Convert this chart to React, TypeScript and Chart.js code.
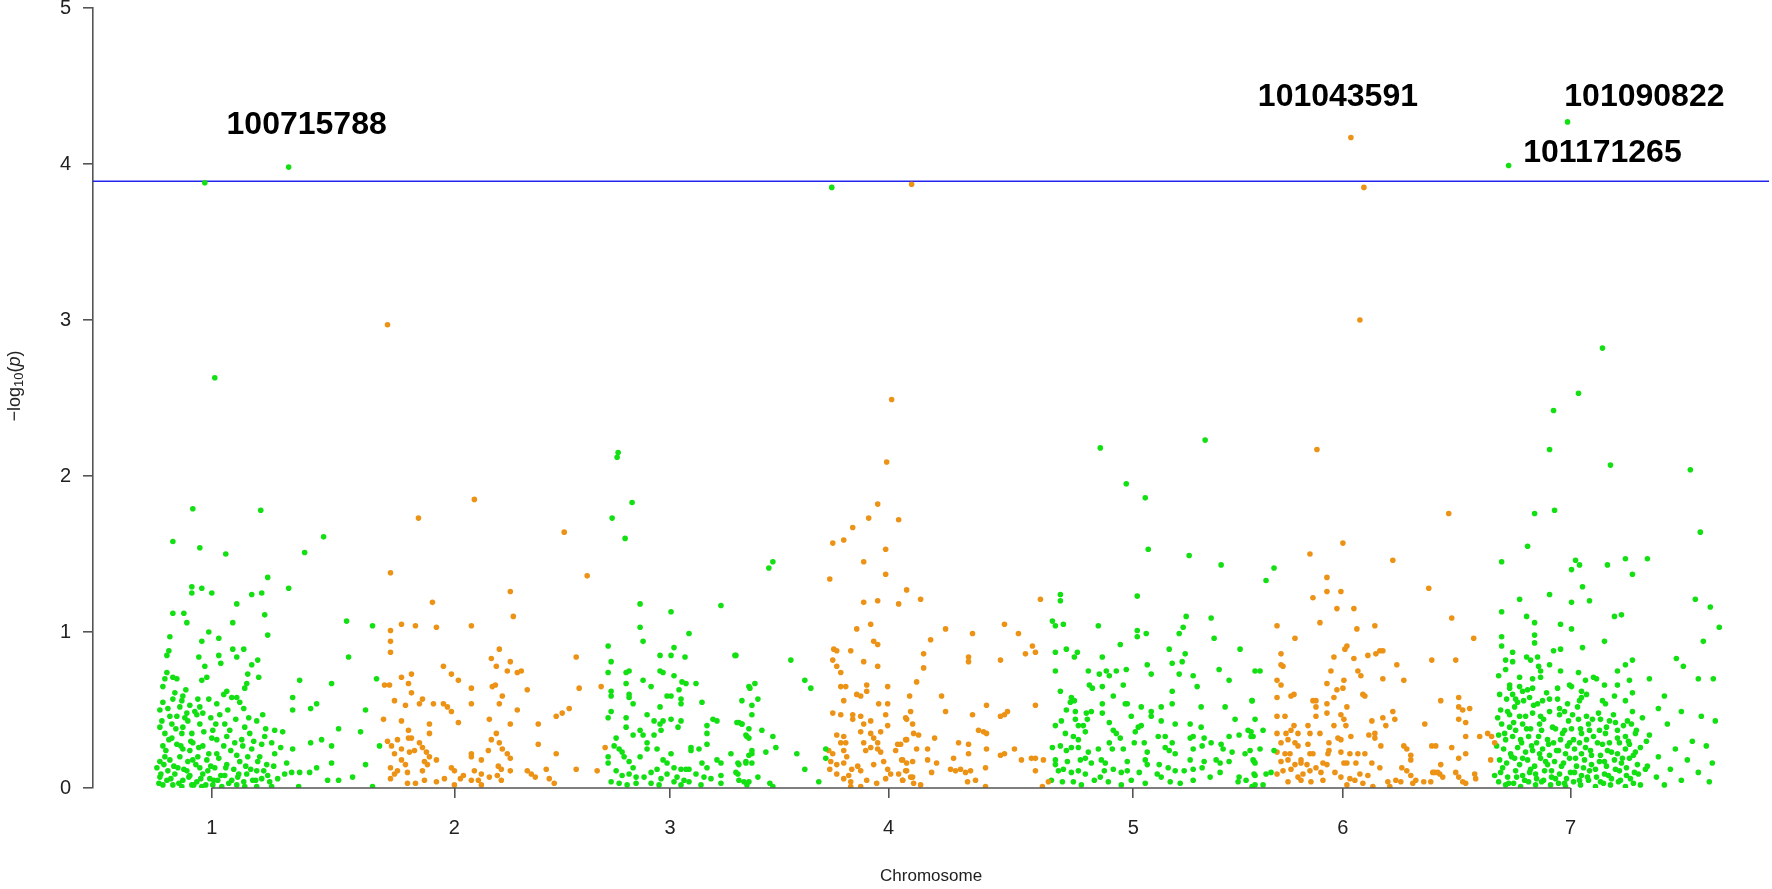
import React, { useEffect, useRef } from 'react';
import { Chart, registerables } from 'chart.js';

Chart.register(...registerables);

// ---- data ----
const chromosomes = ['1', '2', '3', '4', '5', '6', '7'];
// cumulative genome position (arbitrary units) of each chromosome's axis tick
const chromosomeTicks = [119, 362, 578, 797, 1042, 1252, 1480];
const positionRange = [0, 1679];
const yTicks = [0, 1, 2, 3, 4, 5];
const threshold = 3.89;

const labelTexts = ['100715788', '101043591', '101090822', '101171265'];
const labelPositions = [214, 1247, 1554, 1512];
const labelValues = [4.25, 4.43, 4.43, 4.07];

// [cumulative position, -log10(p)]
const chr1: number[][] = [
  [112, 3.88], [196, 3.98], [122, 2.63], [80, 1.58], [100, 1.79], [107, 1.54], [133, 1.5], [168, 1.78], [212, 1.51], [231, 1.61],
  [175, 1.35], [99, 1.29], [109, 1.28], [99, 1.25], [119, 1.25], [159, 1.24], [169, 1.25], [196, 1.28], [144, 1.18], [80, 1.12],
  [91, 1.12], [94, 1.06], [140, 1.06], [172, 1.11], [175, 0.98], [116, 1.0], [109, 0.94], [77, 0.97], [126, 0.96], [76, 0.88],
  [74, 0.85], [106, 0.84], [112, 0.78], [126, 0.85], [140, 0.89], [151, 0.89], [144, 0.84], [128, 0.8], [165, 0.82], [159, 0.79],
  [155, 0.73], [166, 0.71], [74, 0.74], [72, 0.7], [70, 0.65], [80, 0.71], [84, 0.7], [109, 0.69], [114, 0.71], [254, 1.07],
  [280, 1.04], [256, 0.84], [207, 0.69], [239, 0.67], [284, 0.7], [154, 0.67], [152, 0.64], [134, 0.62], [139, 0.58], [144, 0.58],
  [90, 0.59], [80, 0.57], [89, 0.56], [97, 0.53], [105, 0.57], [116, 0.57], [124, 0.54], [67, 0.5], [77, 0.46], [87, 0.52],
  [94, 0.48], [102, 0.49], [110, 0.48], [127, 0.47], [135, 0.5], [151, 0.51], [170, 0.47], [200, 0.58], [200, 0.5], [218, 0.51],
  [224, 0.54], [273, 0.5], [67, 0.39], [79, 0.41], [90, 0.39], [99, 0.35], [107, 0.41], [120, 0.37], [132, 0.41], [137, 0.37],
  [152, 0.39], [157, 0.35], [164, 0.43], [172, 0.33], [182, 0.37], [190, 0.36], [70, 0.27], [84, 0.28], [90, 0.25], [100, 0.29],
  [110, 0.27], [119, 0.32], [124, 0.31], [134, 0.33], [142, 0.29], [150, 0.27], [159, 0.25], [169, 0.28], [179, 0.29], [182, 0.22],
  [200, 0.25], [218, 0.29], [229, 0.31], [239, 0.27], [246, 0.38], [268, 0.36], [287, 0.27], [67, 0.17], [77, 0.18], [87, 0.2],
  [95, 0.17], [105, 0.2], [114, 0.18], [122, 0.13], [134, 0.15], [147, 0.17], [155, 0.2], [165, 0.17], [174, 0.15], [194, 0.16],
  [199, 0.1], [207, 0.1], [217, 0.1], [224, 0.13], [239, 0.16], [273, 0.15], [67, 0.07], [74, 0.05], [82, 0.09], [90, 0.05],
  [97, 0.08], [104, 0.04], [110, 0.09], [117, 0.06], [125, 0.05], [132, 0.08], [139, 0.05], [145, 0.07], [154, 0.09], [160, 0.05],
  [169, 0.06], [175, 0.08], [192, 0.09], [235, 0.05], [246, 0.05], [260, 0.07], [70, 0.02], [80, 0.02], [89, 0.01], [99, 0.02],
  [109, 0.01], [120, 0.02], [129, 0.01], [144, 0.02], [152, 0.01], [164, 0.01], [179, 0.01], [206, 0.01], [280, 0.01], [64, 0.13],
  [72, 0.2], [75, 0.11], [85, 0.13], [94, 0.11], [100, 0.18], [107, 0.13], [115, 0.11], [79, 0.32], [89, 0.35], [95, 0.43],
  [75, 0.51], [69, 0.43], [107, 0.52], [84, 0.46], [97, 0.24], [72, 0.35], [124, 0.22], [144, 0.21], [164, 0.11],
  [66, 0.03], [68, 0.09], [71, 0.15], [73, 0.24], [76, 0.31], [78, 0.06], [81, 0.14], [83, 0.38], [86, 0.03], [88, 0.27],
  [91, 0.12], [92, 0.45], [96, 0.07], [98, 0.3], [101, 0.02], [103, 0.15], [106, 0.26], [108, 0.06], [111, 0.36], [113, 0.02],
  [116, 0.22], [118, 0.14], [121, 0.05], [123, 0.41], [126, 0.19], [128, 0.08], [131, 0.27], [133, 0.13], [136, 0.03], [138, 0.24],
  [141, 0.12], [143, 0.44], [146, 0.09], [149, 0.31], [151, 0.04], [153, 0.14], [156, 0.45], [158, 0.12], [161, 0.3], [163, 0.05],
  [167, 0.2], [171, 0.11], [173, 0.38], [177, 0.04], [181, 0.14], [185, 0.06], [188, 0.26], [70, 0.55], [82, 0.61], [93, 0.63],
  [104, 0.47], [118, 0.45], [131, 0.6], [147, 0.55],
];

const chr2: number[][] = [
  [295, 2.97], [326, 1.73], [382, 1.85], [472, 1.64], [298, 1.38], [418, 1.26], [340, 1.19], [309, 1.05], [323, 1.04], [344, 1.03],
  [379, 1.04], [421, 1.1], [298, 1.01], [298, 0.94], [298, 0.87], [407, 0.89], [399, 0.83], [404, 0.78], [418, 0.81], [415, 0.75],
  [425, 0.74], [429, 0.75], [484, 0.84], [487, 0.64], [351, 0.78], [359, 0.73], [366, 0.69], [379, 0.64], [309, 0.71], [319, 0.73],
  [316, 0.67], [319, 0.61], [292, 0.66], [297, 0.66], [400, 0.65], [403, 0.66], [410, 0.59], [435, 0.63], [302, 0.56], [313, 0.53],
  [327, 0.54], [330, 0.57], [341, 0.54], [351, 0.54], [355, 0.52], [359, 0.49], [379, 0.54], [407, 0.54], [425, 0.5], [477, 0.51],
  [470, 0.48], [464, 0.46], [291, 0.44], [309, 0.43], [337, 0.41], [366, 0.42], [397, 0.44], [418, 0.41], [446, 0.41], [316, 0.37],
  [337, 0.35], [404, 0.35], [295, 0.3], [305, 0.31], [316, 0.32], [319, 0.32], [327, 0.29], [330, 0.26], [299, 0.27], [302, 0.22],
  [309, 0.25], [317, 0.23], [322, 0.24], [334, 0.23], [337, 0.2], [399, 0.31], [407, 0.29], [410, 0.25], [415, 0.22], [418, 0.19],
  [379, 0.22], [379, 0.2], [396, 0.24], [446, 0.28], [464, 0.22], [309, 0.18], [313, 0.15], [332, 0.17], [335, 0.15], [344, 0.18],
  [298, 0.13], [305, 0.11], [315, 0.1], [330, 0.11], [359, 0.13], [362, 0.11], [389, 0.18], [382, 0.11], [406, 0.14], [409, 0.12],
  [418, 0.11], [435, 0.11], [439, 0.09], [443, 0.07], [454, 0.12], [457, 0.06], [462, 0.03], [484, 0.12], [298, 0.06], [302, 0.09],
  [315, 0.03], [323, 0.03], [332, 0.05], [344, 0.04], [352, 0.06], [362, 0.02], [368, 0.06], [371, 0.08], [379, 0.05], [386, 0.05],
  [389, 0.09], [389, 0.02], [397, 0.07], [405, 0.08], [409, 0.05], [495, 1.36], [509, 0.65], [513, 0.26], [505, 0.11],
];

const chr3: number[][] = [
  [740, 3.85], [526, 2.15], [525, 2.12], [540, 1.83], [520, 1.73], [533, 1.6], [677, 1.41], [681, 1.45],
  [548, 1.18], [579, 1.13], [629, 1.17], [548, 1.03], [551, 0.94], [597, 0.99], [516, 0.91], [568, 0.85], [579, 0.85], [582, 0.9],
  [593, 0.84], [643, 0.85], [519, 0.81], [516, 0.74], [534, 0.74], [537, 0.75], [568, 0.75], [571, 0.74], [582, 0.72], [551, 0.69],
  [534, 0.67], [559, 0.65], [590, 0.68], [594, 0.67], [604, 0.67], [519, 0.62], [519, 0.59], [537, 0.6], [537, 0.58], [575, 0.59],
  [579, 0.59], [587, 0.63], [589, 0.57], [541, 0.54], [568, 0.52], [589, 0.54], [610, 0.55], [519, 0.49], [534, 0.45], [555, 0.47],
  [562, 0.43], [568, 0.41], [571, 0.43], [579, 0.44], [589, 0.43], [586, 0.39], [621, 0.44], [625, 0.43], [516, 0.45], [534, 0.39],
  [548, 0.37], [551, 0.34], [541, 0.34], [562, 0.34], [569, 0.37], [615, 0.4], [615, 0.35], [645, 0.42], [650, 0.41], [655, 0.33],
  [524, 0.32], [522, 0.27], [527, 0.25], [530, 0.23], [555, 0.29], [555, 0.25], [565, 0.25], [599, 0.26], [599, 0.24], [607, 0.25],
  [615, 0.28], [639, 0.22], [516, 0.2], [516, 0.16], [532, 0.2], [537, 0.17], [541, 0.13], [548, 0.2], [571, 0.18], [579, 0.22],
  [575, 0.16], [582, 0.13], [589, 0.12], [594, 0.12], [597, 0.12], [610, 0.16], [615, 0.13], [625, 0.18], [629, 0.16], [646, 0.16],
  [654, 0.17], [524, 0.11], [530, 0.08], [537, 0.09], [544, 0.07], [552, 0.07], [559, 0.1], [565, 0.12], [569, 0.06], [575, 0.09],
  [585, 0.07], [592, 0.05], [604, 0.09], [612, 0.07], [619, 0.06], [629, 0.08], [646, 0.09], [519, 0.04], [527, 0.03], [535, 0.02],
  [544, 0.03], [559, 0.03], [567, 0.02], [582, 0.04], [589, 0.02], [597, 0.04], [609, 0.02], [629, 0.03], [652, 0.04],
  [644, 0.85], [699, 0.82], [713, 0.69], [719, 0.64], [657, 0.65], [663, 0.67], [658, 0.64], [650, 0.56], [666, 0.57], [660, 0.53],
  [660, 0.47], [647, 0.42], [650, 0.41], [657, 0.38], [670, 0.37], [654, 0.34], [657, 0.32], [681, 0.33], [684, 0.26], [660, 0.24],
  [657, 0.21], [660, 0.22], [674, 0.23], [705, 0.22], [647, 0.15], [654, 0.16], [660, 0.16], [713, 0.12], [734, 0.25], [734, 0.19],
  [644, 0.1], [647, 0.05], [657, 0.04], [666, 0.07], [678, 0.03], [681, 0.01], [727, 0.04], [655, 0.02],
];

const chr4: number[][] = [
  [820, 3.87], [800, 2.49], [795, 2.09], [786, 1.82], [777, 1.73], [807, 1.72], [761, 1.67], [752, 1.59], [794, 1.53], [741, 1.57],
  [772, 1.45], [794, 1.37], [738, 1.34], [815, 1.27], [772, 1.19], [786, 1.2], [807, 1.18], [779, 1.05], [765, 1.02], [782, 0.94],
  [786, 0.92], [742, 0.89], [745, 0.88], [759, 0.88], [741, 0.82], [772, 0.81], [786, 0.78], [745, 0.78], [749, 0.74], [749, 0.65],
  [754, 0.65], [775, 0.66], [775, 0.62], [796, 0.65], [765, 0.6], [769, 0.59], [752, 0.56], [787, 0.54], [796, 0.54], [818, 0.59],
  [741, 0.48], [749, 0.47], [761, 0.47], [761, 0.44], [769, 0.46], [772, 0.41], [779, 0.43], [794, 0.47], [796, 0.4], [819, 0.49],
  [815, 0.44], [769, 0.36], [779, 0.35], [789, 0.36], [745, 0.34], [752, 0.33], [749, 0.29], [754, 0.29], [772, 0.29], [782, 0.32],
  [786, 0.29], [786, 0.25], [789, 0.23], [806, 0.28], [815, 0.31], [737, 0.24], [741, 0.22], [752, 0.24], [755, 0.2], [774, 0.24],
  [779, 0.26], [804, 0.24], [810, 0.18], [815, 0.16], [739, 0.17], [745, 0.15], [752, 0.16], [760, 0.12], [766, 0.14], [769, 0.11],
  [782, 0.15], [792, 0.17], [796, 0.12], [807, 0.09], [815, 0.11], [738, 0.12], [745, 0.09], [752, 0.06], [757, 0.08], [759, 0.04],
  [775, 0.05], [785, 0.03], [794, 0.06], [799, 0.09], [811, 0.05], [819, 0.07], [759, 0.01], [769, 0.01],
  [829, 1.21], [854, 1.02], [881, 0.99], [913, 1.05], [927, 0.99], [949, 1.21], [839, 0.95], [832, 0.86], [832, 0.77], [877, 0.84],
  [877, 0.81], [909, 0.82], [934, 0.86], [941, 0.91], [944, 0.87], [825, 0.68], [850, 0.59], [854, 0.49], [895, 0.53], [881, 0.47],
  [909, 0.46], [913, 0.47], [916, 0.49], [944, 0.53], [814, 0.45], [821, 0.41], [822, 0.35], [827, 0.34], [843, 0.32], [887, 0.37],
  [892, 0.36], [895, 0.35], [867, 0.29], [877, 0.28], [809, 0.28], [814, 0.31], [825, 0.25], [836, 0.25], [895, 0.25], [909, 0.21],
  [913, 0.22], [923, 0.25], [930, 0.18], [940, 0.19], [944, 0.19], [952, 0.18], [862, 0.19], [877, 0.22], [811, 0.18], [821, 0.17],
  [836, 0.18], [845, 0.16], [859, 0.12], [864, 0.11], [869, 0.12], [874, 0.1], [879, 0.11], [840, 0.1], [814, 0.11], [821, 0.07],
  [811, 0.05], [822, 0.03], [829, 0.02], [876, 0.04], [884, 0.05], [894, 0.13], [894, 0.01], [944, 0.11], [951, 0.01], [957, 0.04],
];

const chr5: number[][] = [
  [1009, 2.18], [1035, 1.95], [1054, 1.86], [1114, 2.23], [1057, 1.53], [1098, 1.49],
  [969, 1.24], [969, 1.2], [1046, 1.23], [1130, 1.43], [961, 1.07], [964, 1.04], [972, 1.05], [1007, 1.04], [1046, 1.01], [1046, 0.97],
  [1055, 0.99], [1095, 1.1], [1092, 1.03], [1088, 0.99], [1120, 1.09], [1123, 0.96], [1029, 0.92], [1149, 0.89], [964, 0.87], [975, 0.89],
  [986, 0.87], [983, 0.84], [1011, 0.84], [1078, 0.89], [1094, 0.86], [1081, 0.8], [1091, 0.81], [964, 0.75], [997, 0.75], [1008, 0.73],
  [1015, 0.75], [1018, 0.72], [1025, 0.75], [1035, 0.76], [1056, 0.79], [1060, 0.73], [1088, 0.73], [1102, 0.72], [1128, 0.76], [1138, 0.69],
  [1164, 0.75], [998, 0.66], [1001, 0.64], [1011, 0.65], [1032, 0.66], [1106, 0.65], [969, 0.62], [1081, 0.62], [1022, 0.59], [980, 0.58],
  [983, 0.56], [979, 0.55], [1011, 0.54], [1034, 0.54], [1036, 0.54], [1081, 0.54], [1110, 0.52], [1134, 0.52], [1161, 0.56], [975, 0.5],
  [984, 0.49], [995, 0.48], [1000, 0.49], [1011, 0.48], [1050, 0.52], [1060, 0.49], [1060, 0.46], [1070, 0.52], [970, 0.43], [964, 0.4],
  [984, 0.44], [987, 0.4], [992, 0.4], [996, 0.44], [1018, 0.42], [1040, 0.46], [1050, 0.4], [1070, 0.43], [1084, 0.41], [1099, 0.41],
  [1110, 0.39], [1144, 0.44], [974, 0.35], [982, 0.33], [987, 0.31], [994, 0.36], [1022, 0.37], [1025, 0.35], [1029, 0.32], [1044, 0.36],
  [1047, 0.39], [1067, 0.33], [1074, 0.33], [1099, 0.32], [1102, 0.33], [1113, 0.32], [1120, 0.29], [1130, 0.28], [1138, 0.33], [1148, 0.34],
  [1157, 0.37], [1160, 0.33], [961, 0.26], [969, 0.27], [975, 0.24], [980, 0.26], [987, 0.26], [997, 0.23], [1007, 0.25], [1018, 0.29],
  [1021, 0.25], [1032, 0.25], [1043, 0.29], [1053, 0.29], [1056, 0.23], [1074, 0.26], [1078, 0.24], [1081, 0.29], [1084, 0.22], [1102, 0.25],
  [1111, 0.27], [1132, 0.25], [1141, 0.23], [1154, 0.22], [1159, 0.24], [964, 0.18], [964, 0.15], [976, 0.17], [989, 0.18], [994, 0.19],
  [1000, 0.16], [1010, 0.18], [1014, 0.16], [1036, 0.17], [1054, 0.18], [1056, 0.15], [1068, 0.15], [1099, 0.18], [1113, 0.17], [1125, 0.18],
  [1129, 0.16], [1138, 0.17], [1163, 0.17], [967, 0.11], [972, 0.12], [980, 0.1], [987, 0.11], [994, 0.09], [1009, 0.07], [1013, 0.11],
  [1022, 0.12], [1030, 0.1], [1036, 0.11], [1048, 0.1], [1066, 0.09], [1077, 0.13], [1084, 0.11], [1093, 0.11], [1102, 0.12], [1111, 0.13],
  [1119, 0.07], [1129, 0.1], [1148, 0.07], [1155, 0.05], [1163, 0.09], [960, 0.05], [971, 0.04], [982, 0.04], [990, 0.02], [1003, 0.05],
  [1017, 0.04], [1030, 0.02], [1040, 0.05], [1054, 0.03], [1070, 0.07], [1079, 0.04], [1089, 0.03], [1102, 0.05], [1147, 0.04], [1161, 0.01],
  [1183, 1.41], [1175, 1.33], [1169, 0.75], [1161, 0.56], [1164, 0.44], [1172, 0.37], [1160, 0.36], [1162, 0.33], [1169, 0.25], [1183, 0.24],
  [1162, 0.18], [1164, 0.16], [1164, 0.08], [1175, 0.09], [1180, 0.1], [1164, 0.02], [1172, 0.02],
];

const chr6: number[][] = [
  [1260, 4.17], [1273, 3.85], [1269, 3.0], [1226, 2.17], [1252, 1.57], [1219, 1.5], [1358, 1.76],
  [1236, 1.35], [1222, 1.22], [1236, 1.26], [1250, 1.26], [1246, 1.15], [1263, 1.15], [1338, 1.28], [1302, 1.46], [1186, 1.04], [1229, 1.06],
  [1204, 0.96], [1266, 1.02], [1284, 1.04], [1190, 0.86], [1254, 0.89], [1256, 0.91], [1243, 0.84], [1263, 0.83], [1277, 0.85], [1285, 0.86],
  [1289, 0.88], [1292, 0.88], [1341, 0.82], [1190, 0.79], [1192, 0.78], [1306, 0.79], [1240, 0.75], [1267, 0.75], [1270, 0.72], [1186, 0.69],
  [1190, 0.66], [1236, 0.67], [1253, 0.69], [1292, 0.7], [1313, 0.69], [1246, 0.63], [1252, 0.64], [1200, 0.59], [1203, 0.6], [1186, 0.58],
  [1243, 0.58], [1272, 0.6], [1274, 0.59], [1222, 0.56], [1225, 0.56], [1236, 0.54], [1256, 0.52], [1225, 0.52], [1350, 0.56], [1186, 0.46],
  [1194, 0.46], [1225, 0.46], [1236, 0.48], [1250, 0.47], [1253, 0.44], [1302, 0.49], [1292, 0.45], [1281, 0.43], [1304, 0.44], [1295, 0.4],
  [1334, 0.41], [1203, 0.4], [1217, 0.4], [1200, 0.37], [1186, 0.35], [1195, 0.35], [1207, 0.35], [1219, 0.35], [1229, 0.35], [1243, 0.4],
  [1255, 0.4], [1247, 0.32], [1250, 0.31], [1260, 0.33], [1278, 0.34], [1284, 0.35], [1284, 0.32], [1190, 0.29], [1197, 0.31], [1204, 0.29],
  [1207, 0.27], [1217, 0.28], [1238, 0.29], [1290, 0.27], [1313, 0.27], [1316, 0.25], [1341, 0.27], [1186, 0.23], [1194, 0.22], [1199, 0.22],
  [1210, 0.18], [1219, 0.22], [1222, 0.22], [1237, 0.22], [1238, 0.24], [1250, 0.23], [1259, 0.22], [1267, 0.22], [1274, 0.22], [1320, 0.21],
  [1320, 0.18], [1190, 0.17], [1197, 0.18], [1204, 0.15], [1210, 0.16], [1216, 0.15], [1225, 0.13], [1232, 0.16], [1236, 0.15], [1253, 0.16],
  [1256, 0.16], [1265, 0.16], [1281, 0.16], [1289, 0.13], [1311, 0.13], [1316, 0.11], [1350, 0.15], [1186, 0.09], [1192, 0.11], [1200, 0.12],
  [1207, 0.07], [1212, 0.09], [1219, 0.11], [1230, 0.1], [1244, 0.1], [1250, 0.07], [1259, 0.06], [1264, 0.05], [1269, 0.09], [1277, 0.08],
  [1320, 0.08], [1325, 0.05], [1342, 0.1], [1347, 0.1], [1197, 0.04], [1210, 0.05], [1220, 0.04], [1232, 0.05], [1256, 0.02], [1272, 0.03],
  [1282, 0.01], [1297, 0.04], [1305, 0.05], [1310, 0.04], [1322, 0.03], [1333, 0.04], [1340, 0.04], [1299, 0.01],
  [1361, 1.09], [1383, 0.96], [1365, 0.82], [1368, 0.58], [1368, 0.52], [1372, 0.5], [1379, 0.51], [1368, 0.44], [1375, 0.42], [1375, 0.33],
  [1389, 0.33], [1397, 0.35], [1401, 0.33], [1404, 0.29], [1361, 0.26], [1375, 0.22], [1368, 0.19], [1400, 0.18], [1344, 0.1], [1349, 0.09],
  [1365, 0.1], [1368, 0.07], [1372, 0.04], [1375, 0.03], [1384, 0.09], [1385, 0.06], [1345, 0.27], [1352, 0.07],
];

const chr7: number[][] = [
  [1418, 3.99], [1477, 4.27], [1512, 2.82], [1488, 2.53], [1463, 2.42], [1459, 2.17], [1464, 1.78], [1520, 2.07], [1600, 2.04], [1610, 1.64],
  [1437, 1.55], [1444, 1.76], [1485, 1.46], [1535, 1.47], [1557, 1.47],
  [1411, 1.45], [1481, 1.4], [1489, 1.43], [1517, 1.43], [1542, 1.37], [1459, 1.24], [1429, 1.21], [1481, 1.19], [1492, 1.29], [1499, 1.2],
  [1411, 1.13], [1524, 1.1], [1531, 1.11], [1436, 1.1], [1444, 1.06], [1470, 1.05], [1481, 1.02], [1411, 0.97], [1444, 0.98], [1411, 0.91],
  [1444, 0.93], [1492, 0.9], [1514, 0.94], [1422, 0.87], [1463, 0.88], [1470, 0.89], [1436, 0.84], [1440, 0.82], [1447, 0.84], [1415, 0.82],
  [1422, 0.81], [1459, 0.79], [1448, 0.78], [1450, 0.75], [1415, 0.76], [1542, 0.82], [1535, 0.79], [1527, 0.75], [1470, 0.75], [1488, 0.74],
  [1408, 0.72], [1429, 0.71], [1442, 0.7], [1450, 0.71], [1495, 0.69], [1503, 0.71], [1506, 0.7], [1539, 0.69], [1419, 0.66], [1419, 0.64],
  [1429, 0.65], [1479, 0.66], [1481, 0.65], [1514, 0.66], [1527, 0.66], [1422, 0.6], [1432, 0.62], [1442, 0.64], [1467, 0.64], [1491, 0.62],
  [1496, 0.6], [1524, 0.59], [1542, 0.61], [1416, 0.57], [1425, 0.57], [1433, 0.56], [1439, 0.58], [1447, 0.54], [1452, 0.56], [1459, 0.57],
  [1467, 0.57], [1477, 0.54], [1489, 0.56], [1491, 0.58], [1512, 0.56], [1515, 0.54], [1535, 0.56], [1542, 0.49], [1410, 0.5], [1419, 0.47],
  [1424, 0.52], [1429, 0.46], [1435, 0.46], [1442, 0.48], [1450, 0.46], [1459, 0.49], [1469, 0.51], [1474, 0.49], [1482, 0.47], [1488, 0.44],
  [1496, 0.46], [1502, 0.44], [1510, 0.44], [1519, 0.43], [1525, 0.42], [1537, 0.43], [1541, 0.41], [1411, 0.41], [1419, 0.39], [1425, 0.37],
  [1432, 0.41], [1440, 0.38], [1449, 0.41], [1451, 0.37], [1465, 0.38], [1474, 0.37], [1481, 0.38], [1491, 0.35], [1499, 0.37], [1509, 0.37],
  [1515, 0.35], [1527, 0.37], [1535, 0.33], [1545, 0.35], [1408, 0.34], [1415, 0.31], [1422, 0.33], [1431, 0.29], [1438, 0.33], [1446, 0.29],
  [1457, 0.31], [1463, 0.29], [1470, 0.31], [1479, 0.29], [1489, 0.29], [1496, 0.31], [1507, 0.29], [1519, 0.29], [1529, 0.29], [1539, 0.28],
  [1413, 0.25], [1420, 0.22], [1427, 0.26], [1435, 0.23], [1442, 0.24], [1452, 0.25], [1459, 0.21], [1468, 0.24], [1475, 0.22], [1484, 0.25],
  [1491, 0.22], [1500, 0.24], [1510, 0.21], [1517, 0.24], [1527, 0.22], [1535, 0.25], [1545, 0.23], [1409, 0.18], [1416, 0.16], [1424, 0.19],
  [1429, 0.15], [1437, 0.18], [1444, 0.14], [1450, 0.19], [1457, 0.15], [1464, 0.17], [1473, 0.16], [1479, 0.19], [1486, 0.14], [1494, 0.18],
  [1501, 0.15], [1509, 0.17], [1516, 0.14], [1524, 0.18], [1531, 0.16], [1539, 0.19], [1547, 0.15], [1410, 0.1], [1417, 0.07], [1425, 0.11],
  [1432, 0.08], [1439, 0.1], [1446, 0.06], [1454, 0.11], [1461, 0.07], [1469, 0.09], [1476, 0.06], [1484, 0.1], [1491, 0.08], [1499, 0.11],
  [1506, 0.07], [1514, 0.09], [1521, 0.06], [1529, 0.11], [1536, 0.08], [1544, 0.1], [1408, 0.04], [1415, 0.02], [1423, 0.03], [1430, 0.01],
  [1438, 0.04], [1445, 0.02], [1453, 0.05], [1460, 0.02], [1468, 0.03], [1475, 0.01], [1483, 0.04], [1490, 0.02], [1498, 0.05], [1505, 0.01],
  [1513, 0.03], [1520, 0.02], [1528, 0.04], [1535, 0.01], [1543, 0.03], [1550, 0.02],
  [1605, 1.21], [1620, 1.16], [1613, 0.94], [1629, 1.03], [1586, 0.83], [1593, 0.78], [1608, 0.7], [1623, 0.7], [1559, 0.7], [1574, 0.59],
  [1568, 0.51], [1591, 0.49], [1611, 0.46], [1625, 0.43], [1577, 0.41], [1559, 0.34], [1602, 0.3], [1616, 0.27], [1585, 0.25], [1568, 0.2],
  [1597, 0.18], [1622, 0.16], [1557, 0.14], [1580, 0.12], [1608, 0.1], [1566, 0.07], [1591, 0.05], [1619, 0.04], [1574, 0.02],
  [1404, 0.08], [1406, 0.27], [1407, 0.45], [1409, 0.6], [1412, 0.13], [1414, 0.35], [1417, 0.49], [1418, 0.03], [1421, 0.2], [1423, 0.42],
  [1426, 0.07], [1427, 0.55], [1430, 0.31], [1432, 0.19], [1434, 0.05], [1436, 0.38], [1437, 0.63], [1440, 0.12], [1441, 0.27], [1443, 0.53],
  [1445, 0.09], [1448, 0.33], [1449, 0.22], [1451, 0.04], [1453, 0.44], [1455, 0.17], [1456, 0.61], [1458, 0.28], [1461, 0.11], [1462, 0.39],
  [1465, 0.06], [1466, 0.24], [1469, 0.47], [1471, 0.14], [1472, 0.35], [1474, 0.03], [1477, 0.27], [1478, 0.43], [1480, 0.1], [1483, 0.31],
  [1485, 0.19], [1487, 0.52], [1489, 0.05], [1490, 0.38], [1493, 0.13], [1495, 0.26], [1497, 0.07], [1498, 0.41], [1501, 0.21], [1503, 0.33],
  [1505, 0.12], [1508, 0.48], [1510, 0.04], [1512, 0.28], [1514, 0.17], [1516, 0.39], [1518, 0.08], [1521, 0.23], [1523, 0.47], [1525, 0.12],
  [1527, 0.32], [1530, 0.05], [1532, 0.19], [1533, 0.4], [1536, 0.13], [1538, 0.3], [1540, 0.06], [1543, 0.21], [1546, 0.37], [1548, 0.09],
  [1550, 0.26], [1552, 0.45], [1555, 0.12], [1556, 0.3],
];

const chromosomeData = [chr1, chr2, chr3, chr4, chr5, chr6, chr7];

const GREEN = '#12e012';
const ORANGE = '#ec9316';
const FONT = '"Liberation Sans", Arial, sans-serif';

const overlayPlugin = {
  id: 'manhattanOverlay',
  afterDraw(chart: any) {
    const ctx = chart.ctx;
    const xs = chart.scales.x;
    const ys = chart.scales.y;
    const area = chart.chartArea;
    ctx.save();
    // x axis line from first to last chromosome tick (R style)
    ctx.strokeStyle = '#555';
    ctx.lineWidth = 1.6;
    ctx.beginPath();
    ctx.moveTo(xs.getPixelForValue(chromosomeTicks[0]), area.bottom);
    ctx.lineTo(xs.getPixelForValue(chromosomeTicks[chromosomeTicks.length - 1]), area.bottom);
    ctx.stroke();

    // SNP labels
    ctx.fillStyle = '#000';
    ctx.font = `bold 32px ${FONT}`;
    ctx.textAlign = 'center';
    ctx.textBaseline = 'middle';
    labelTexts.forEach((t, i) => {
      ctx.fillText(t, xs.getPixelForValue(labelPositions[i]), ys.getPixelForValue(labelValues[i]));
    });

    // x title
    ctx.fillStyle = '#222';
    ctx.font = `17px ${FONT}`;
    ctx.textBaseline = 'middle';
    ctx.fillText('Chromosome', (area.left + area.right) / 2, 876);

    // y title: −log10(p)
    ctx.translate(15, (area.top + area.bottom) / 2 - 12);
    ctx.rotate(-Math.PI / 2);
    const parts = [
      { t: '\u2212log', f: `18px ${FONT}`, dy: 0 },
      { t: '10', f: `13px ${FONT}`, dy: 4 },
      { t: '(', f: `18px ${FONT}`, dy: 0 },
      { t: 'p', f: `italic 18px ${FONT}`, dy: 0 },
      { t: ')', f: `18px ${FONT}`, dy: 0 },
    ];
    let total = 0;
    parts.forEach((p) => { ctx.font = p.f; total += ctx.measureText(p.t).width; });
    let cx = -total / 2;
    ctx.textAlign = 'left';
    parts.forEach((p) => {
      ctx.font = p.f;
      ctx.fillText(p.t, cx, p.dy);
      cx += ctx.measureText(p.t).width;
    });
    ctx.restore();
  },
};

export default function App() {
  const ref = useRef<HTMLCanvasElement>(null);
  useEffect(() => {
    if (!ref.current) return;
    const datasets: any[] = chromosomeData.map((d, i) => ({
      type: 'scatter',
      label: 'Chr ' + chromosomes[i],
      data: d.map(([x, y]) => ({ x, y })),
      backgroundColor: i % 2 === 0 ? GREEN : ORANGE,
      borderWidth: 0,
      pointRadius: 2.8,
      pointHoverRadius: 2.8,
      order: 1,
    }));
    datasets.push({
      type: 'line',
      label: 'threshold',
      data: [{ x: positionRange[0], y: threshold }, { x: positionRange[1], y: threshold }],
      borderColor: '#2424f0',
      borderWidth: 1.5,
      pointRadius: 0,
      order: 2,
    });
    const chart = new Chart(ref.current, {
      type: 'scatter',
      data: { datasets },
      options: {
        animation: false,
        responsive: false,
        devicePixelRatio: 1,
        layout: { padding: { top: 8, right: 0, bottom: 0, left: 0 } },
        plugins: { legend: { display: false }, tooltip: { enabled: false } },
        scales: {
          x: {
            type: 'linear',
            min: positionRange[0],
            max: positionRange[1],
            afterBuildTicks: (s: any) => { s.ticks = chromosomeTicks.map((v) => ({ value: v })); },
            afterFit: (s: any) => { s.height = 101; s.paddingLeft = 0; s.paddingRight = 0; },
            ticks: {
              autoSkip: false,
              maxRotation: 0,
              padding: 18,
              color: '#222',
              font: { size: 20, family: FONT },
              callback: (_v: any, i: number) => chromosomes[i],
            },
            grid: { drawOnChartArea: false, drawTicks: true, tickLength: 10, color: '#555', lineWidth: 1.6 },
            border: { display: false },
          },
          y: {
            type: 'linear',
            min: 0,
            max: 5,
            afterBuildTicks: (s: any) => { s.ticks = yTicks.map((v) => ({ value: v })); },
            afterFit: (s: any) => { s.width = 93; s.paddingTop = 0; s.paddingBottom = 0; },
            ticks: {
              padding: 12,
              color: '#222',
              font: { size: 20, family: FONT },
            },
            grid: { drawOnChartArea: false, drawTicks: true, tickLength: 10, color: '#555', lineWidth: 1.6 },
            border: { display: true, color: '#555', width: 1.6 },
          },
        },
      },
      plugins: [overlayPlugin],
    } as any);
    return () => chart.destroy();
  }, []);
  return (
    <div style={{ position: 'absolute', left: 0, top: 0, width: 1772, height: 889, background: '#fff' }}>
      <canvas ref={ref} width={1772} height={889} />
    </div>
  );
}
